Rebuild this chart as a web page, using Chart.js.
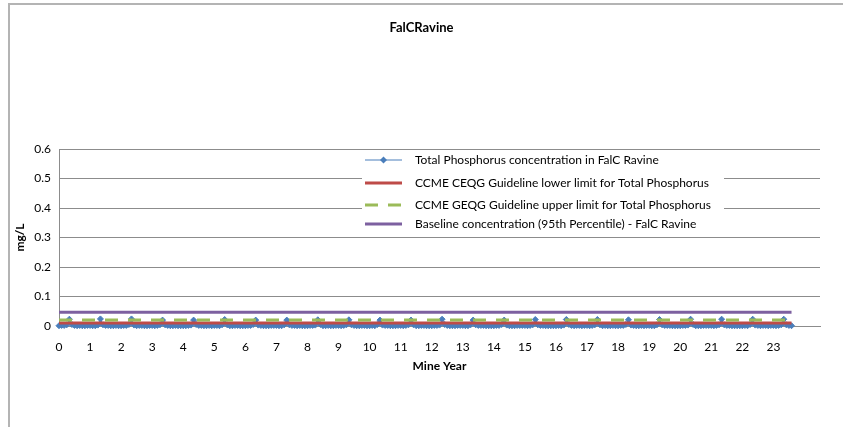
<!DOCTYPE html>
<html>
<head>
<meta charset="utf-8">
<title>FalCRavine</title>
<script src="https://cdn.jsdelivr.net/npm/chart.js@4/dist/chart.umd.min.js"></script>
<style>
  body { margin: 0; background: #fff; }
  #wrap { position: relative; width: 843px; height: 427px; }
  #frame { position: absolute; left: 8px; top: 3px; right: 0; bottom: 0;
           border-top: 2px solid #b4b4b4; border-left: 2px solid #b4b4b4; pointer-events: none; }
</style>
</head>
<body>
<div id="wrap">
  <canvas id="chart" width="843" height="427"></canvas>
  <div id="frame"></div>
</div>
<script>
// Total phosphorus, one row per mine year, monthly samples (mg/L)
const tpMonthly = [
  [0.001, 0.002, 0.002, 0.004, 0.023, 0.005, 0.002, 0.001, 0.002, 0.001, 0.001, 0.002],
  [0.002, 0.001, 0.001, 0.003, 0.024, 0.004, 0.002, 0.002, 0.001, 0.001, 0.002, 0.001],
  [0.001, 0.002, 0.002, 0.005, 0.024, 0.003, 0.001, 0.002, 0.002, 0.001, 0.001, 0.002],
  [0.002, 0.001, 0.002, 0.004, 0.020, 0.004, 0.002, 0.001, 0.001, 0.002, 0.001, 0.001],
  [0.001, 0.001, 0.002, 0.003, 0.020, 0.005, 0.002, 0.002, 0.001, 0.001, 0.002, 0.001],
  [0.002, 0.002, 0.001, 0.004, 0.022, 0.004, 0.001, 0.001, 0.002, 0.002, 0.001, 0.001],
  [0.001, 0.002, 0.002, 0.005, 0.020, 0.003, 0.002, 0.001, 0.001, 0.001, 0.002, 0.002],
  [0.002, 0.001, 0.001, 0.004, 0.020, 0.004, 0.002, 0.002, 0.001, 0.002, 0.001, 0.001],
  [0.001, 0.002, 0.002, 0.003, 0.021, 0.005, 0.001, 0.001, 0.002, 0.001, 0.001, 0.002],
  [0.002, 0.001, 0.002, 0.004, 0.021, 0.004, 0.002, 0.001, 0.001, 0.002, 0.002, 0.001],
  [0.001, 0.002, 0.001, 0.005, 0.020, 0.003, 0.002, 0.002, 0.001, 0.001, 0.001, 0.002],
  [0.002, 0.001, 0.002, 0.004, 0.020, 0.004, 0.001, 0.001, 0.002, 0.002, 0.001, 0.001],
  [0.001, 0.002, 0.002, 0.003, 0.023, 0.005, 0.002, 0.001, 0.001, 0.001, 0.002, 0.002],
  [0.002, 0.001, 0.001, 0.004, 0.020, 0.004, 0.002, 0.002, 0.002, 0.001, 0.001, 0.001],
  [0.001, 0.002, 0.002, 0.005, 0.020, 0.003, 0.001, 0.001, 0.001, 0.002, 0.002, 0.002],
  [0.002, 0.001, 0.002, 0.004, 0.022, 0.004, 0.002, 0.002, 0.001, 0.001, 0.001, 0.001],
  [0.001, 0.002, 0.001, 0.003, 0.022, 0.005, 0.002, 0.001, 0.002, 0.002, 0.001, 0.002],
  [0.002, 0.001, 0.002, 0.004, 0.022, 0.004, 0.001, 0.002, 0.001, 0.001, 0.002, 0.001],
  [0.001, 0.002, 0.002, 0.005, 0.021, 0.003, 0.002, 0.001, 0.001, 0.002, 0.001, 0.002],
  [0.002, 0.001, 0.001, 0.004, 0.022, 0.004, 0.002, 0.002, 0.002, 0.001, 0.001, 0.001],
  [0.001, 0.002, 0.002, 0.003, 0.023, 0.005, 0.001, 0.001, 0.001, 0.002, 0.002, 0.002],
  [0.002, 0.001, 0.002, 0.004, 0.023, 0.004, 0.002, 0.002, 0.001, 0.001, 0.001, 0.001],
  [0.001, 0.002, 0.001, 0.005, 0.023, 0.003, 0.002, 0.001, 0.002, 0.002, 0.001, 0.002],
  [0.002, 0.001, 0.002, 0.004, 0.023, 0.004, 0.002, 0.001]
];

const mineYears = [0, 1, 2, 3, 4, 5, 6, 7, 8, 9, 10, 11, 12, 13, 14, 15, 16, 17, 18, 19, 20, 21, 22, 23];
const ceqgLower = 0.01;   // CCME guideline lower limit
const ceqgUpper = 0.02;   // CCME guideline upper limit
const baseline95 = 0.047; // 95th percentile baseline

const seriesLabels = [
  'Total Phosphorus concentration in FalC Ravine',
  'CCME CEQG Guideline lower limit for Total Phosphorus',
  'CCME GEQG Guideline upper limit for Total Phosphorus',
  'Baseline concentration (95th Percentile) - FalC Ravine'
];

// monthly points -> x in mine years
const tpPoints = [];
tpMonthly.forEach((row, yr) => {
  row.forEach((v, m) => tpPoints.push({ x: mineYears[yr] + m / 12, y: v }));
});
const lastX = tpPoints[tpPoints.length - 1].x;
const flat = (v) => [{ x: 0, y: v }, { x: lastX, y: v }];

const FONT = 'Lato, "Liberation Sans", sans-serif';
const GRID = '#8c8c8c';

// legend sits inside the plot area like the Excel one
const insideLegend = {
  id: 'insideLegend',
  afterDatasetsDraw(chart) {
    const ctx = chart.ctx;
    const a = chart.chartArea;
    const x0 = a.left + 303, y0 = a.top + 2;
    ctx.save();
    ctx.fillStyle = '#fff';
    ctx.fillRect(x0, y0, 362, 80);
    const rows = [9, 32, 54, 73];
    chart.data.datasets.forEach((ds, i) => {
      const y = y0 + rows[i];
      ctx.strokeStyle = ds.borderColor;
      ctx.lineWidth = ds.borderWidth;
      ctx.setLineDash(ds.borderDash || []);
      ctx.beginPath();
      ctx.moveTo(x0 + 3, y);
      ctx.lineTo(x0 + 40, y);
      ctx.stroke();
      ctx.setLineDash([]);
      if (i === 0) {
        ctx.fillStyle = ds.borderColor;
        ctx.beginPath();
        ctx.moveTo(x0 + 21.5, y - 3.5);
        ctx.lineTo(x0 + 25, y);
        ctx.lineTo(x0 + 21.5, y + 3.5);
        ctx.lineTo(x0 + 18, y);
        ctx.closePath();
        ctx.fill();
      }
      ctx.fillStyle = '#000';
      ctx.font = '12px ' + FONT;
      ctx.textBaseline = 'middle';
      ctx.fillText(ds.label, x0 + 53, y);
    });
    ctx.restore();
  }
};

const ctx = document.getElementById('chart').getContext('2d');
new Chart(ctx, {
  type: 'line',
  data: {
    datasets: [
      {
        label: seriesLabels[0],
        data: tpPoints,
        borderColor: '#4A7EBB',
        backgroundColor: '#4A7EBB',
        borderWidth: 1,
        pointStyle: 'rectRot',
        pointRadius: 3,
        pointBorderWidth: 1,
        clip: false,
        order: 5
      },
      {
        label: seriesLabels[1],
        data: flat(ceqgLower),
        borderColor: '#BE4B48',
        borderWidth: 3,
        pointRadius: 0,
        order: 3
      },
      {
        label: seriesLabels[2],
        data: flat(ceqgUpper),
        borderColor: '#9BBB59',
        borderWidth: 3,
        borderDash: [13, 10],
        pointRadius: 0,
        order: 2
      },
      {
        label: seriesLabels[3],
        data: flat(baseline95),
        borderColor: '#7D60A0',
        borderWidth: 3,
        pointRadius: 0,
        order: 1
      }
    ]
  },
  options: {
    responsive: false,
    animation: false,
    devicePixelRatio: 1,
    layout: { padding: { left: 0, right: 0, top: 0, bottom: 51 } },
    plugins: {
      legend: { display: false },
      tooltip: { enabled: false },
      title: {
        display: true,
        text: 'FalCRavine',
        color: '#000',
        font: { family: FONT, size: 13, weight: 'bold' },
        padding: { top: 20, bottom: 113.4 }
      }
    },
    scales: {
      x: {
        type: 'linear',
        min: 0,
        max: 24.5,
        grid: { display: false },
        border: { display: true, color: GRID, width: 1 },
        ticks: {
          stepSize: 1,
          includeBounds: false,
          autoSkip: false,
          maxRotation: 0,
          padding: 6,
          color: '#000',
          font: { family: FONT, size: 12 },
          callback: (v) => (mineYears.includes(v) ? String(v) : '')
        },
        title: {
          display: true,
          text: 'Mine Year',
          color: '#000',
          font: { family: FONT, size: 12, weight: 'bold' },
          padding: { top: 4, bottom: 3 }
        },
        afterFit: (s) => { s.height = 50; }
      },
      y: {
        min: 0,
        max: 0.6,
        grid: { color: GRID, drawTicks: false },
        border: { display: true, color: GRID, width: 1 },
        ticks: {
          stepSize: 0.1,
          padding: 8,
          color: '#000',
          font: { family: FONT, size: 12 },
          callback: (v) => (v === 0 ? '0' : v.toFixed(1))
        },
        title: {
          display: true,
          text: 'mg/L',
          color: '#000',
          font: { family: FONT, size: 12, weight: 'bold' },
          padding: { top: 13, bottom: 4 }
        },
        afterFit: (s) => { s.width = 59; }
      },
      // empty right margin so the title centres on the whole page
      yRight: {
        position: 'right',
        display: true,
        grid: { display: false },
        border: { display: false },
        ticks: { display: false },
        afterFit: (s) => { s.width = 23; }
      }
    }
  },
  plugins: [insideLegend]
});
</script>
</body>
</html>
